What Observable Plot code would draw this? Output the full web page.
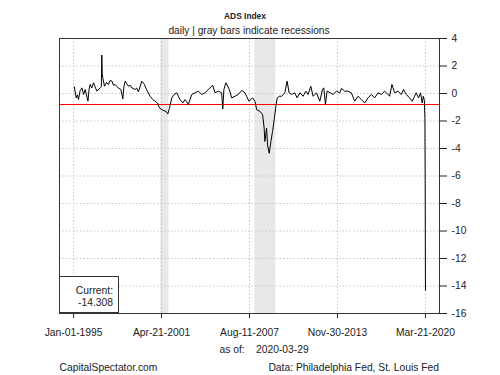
<!DOCTYPE html>
<html>
<head>
<meta charset="utf-8">
<script src="https://cdn.jsdelivr.net/npm/d3@7"></script>
<script src="https://cdn.jsdelivr.net/npm/@observablehq/plot@0.6"></script>
<style>
  html, body { margin: 0; padding: 0; background: #fff; }
  #chart { width: 500px; height: 375px; position: relative; }
  svg { font-family: "Liberation Sans", Arial, sans-serif; }
</style>
</head>
<body>
<div id="chart"></div>
<script>
const dates = [
  "1995-01-20","1995-03-10","1995-04-10","1995-05-10","1995-06-20","1995-08-07","1995-09-20","1995-11-01",
  "1996-01-12","1996-02-10","1996-03-10","1996-04-20","1996-06-05","1996-07-15","1996-09-02","1996-11-28","1996-12-28",
  "1997-01-08","1997-01-20","1997-02-06","1997-03-20","1997-05-10","1997-07-01","1997-08-15","1997-10-01","1997-11-10","1997-12-25",
  "1998-02-10","1998-03-20","1998-05-22","1998-07-13","1998-08-10","1998-09-12","1998-10-25","1998-12-06",
  "1999-01-20","1999-03-07","1999-05-31","1999-07-10","1999-08-25","1999-11-21",
  "2000-01-30","2000-03-05","2000-04-16","2000-06-27","2000-09-05","2000-11-03",
  "2001-01-04","2001-02-25","2001-05-23","2001-08-18","2001-10-01","2001-11-13",
  "2002-01-15","2002-03-15","2002-05-26","2002-07-05","2002-08-18","2002-10-29","2002-12-28",
  "2003-02-10","2003-03-25","2003-06-20","2003-09-16","2003-12-10",
  "2004-03-07","2004-06-02","2004-08-28","2004-12-20",
  "2005-02-20","2005-05-15","2005-08-12","2005-09-10","2005-10-10","2005-12-02",
  "2006-02-28","2006-05-01","2006-07-27","2006-10-20",
  "2007-01-18","2007-04-13","2007-05-27","2007-07-26","2007-10-30",
  "2008-01-01","2008-02-14","2008-05-11","2008-07-19","2008-08-29","2008-09-16","2008-10-31","2008-11-26",
  "2009-01-08","2009-02-21","2009-04-05","2009-05-19","2009-07-02","2009-08-05","2009-09-27","2009-11-29",
  "2010-02-21","2010-04-22","2010-06-13","2010-08-15","2010-11-09",
  "2011-01-08","2011-03-21","2011-06-15","2011-08-24","2011-10-23",
  "2012-01-01","2012-03-01","2012-05-30","2012-08-24","2012-11-02","2012-12-06",
  "2013-01-19","2013-03-03","2013-05-30","2013-08-07","2013-11-03",
  "2014-01-30","2014-03-14","2014-06-08","2014-09-02","2014-11-28",
  "2015-02-24","2015-05-22","2015-08-18","2015-11-13",
  "2016-02-07","2016-05-07","2016-07-31","2016-10-26",
  "2017-01-22","2017-04-19","2017-07-13","2017-08-26","2017-10-26",
  "2018-01-04","2018-04-01","2018-06-27","2018-08-26","2018-11-05",
  "2019-01-30","2019-04-11","2019-06-09","2019-07-23","2019-09-23","2019-11-14","2019-12-28",
  "2020-01-25","2020-02-22","2020-03-07","2020-03-14","2020-03-21"
];
const values = [
  0.48,-0.32,-0.1,-0.44,0.2,0.41,-0.07,0.29,
  -0.56,0.3,0.66,0.4,0.78,0.5,0.17,0.41,0.5,
  2.8,1.4,1.1,0.53,0.8,0.66,0.95,0.9,0.6,0.66,
  0.5,0.41,0.29,-0.39,0.5,0.9,0.7,0.53,
  0.6,0.41,0.29,0.4,0.12,0.9,
  0.66,0.4,0.17,-0.2,-0.44,-0.56,
  -0.69,-1.05,-1.22,-1.3,-1.49,-1.1,
  -0.32,-0.07,0.05,-0.2,-0.44,-0.69,-0.44,
  -0.6,-0.8,-0.07,0.05,0.17,
  -0.07,0.05,0.29,0.6,
  0.05,0.17,0.05,-1.13,0.3,0.78,
  0.29,-0.32,-0.2,-0.07,
  0.22,0.05,-0.2,-0.56,-0.32,
  -0.56,-1.17,-1.3,-1.54,-2.52,-3.49,-2.52,-3.74,
  -4.35,-3.49,-2.76,-1.9,-0.93,-0.32,-0.2,-0.2,
  0.05,0.9,0.05,-0.07,0.05,
  -0.32,0.05,-0.2,0.17,-0.07,
  0.53,-0.2,0.05,-0.56,0.29,0.41,
  -0.8,0.17,0.05,-0.07,0.17,
  0.05,0.37,0.17,0.17,0.05,
  -0.56,-0.2,-0.44,-0.69,
  -0.32,-0.07,-0.32,0.05,
  -0.07,0.17,-0.07,-0.2,0.66,
  0.05,0.17,-0.07,0.29,-0.07,
  -0.32,-0.56,-0.2,0.05,-0.32,0.05,-0.69,
  -0.2,-0.5,-1.8,-6.35,-14.308
];
const recessionStart = ["2001-04-01", "2008-01-01"];
const recessionEnd = ["2001-11-01", "2009-06-30"];
const threshold = [-0.8];
const xTicks = ["1995-01-01","2001-04-21","2007-08-11","2013-11-30","2020-03-21"];
const yTicks = [4,2,0,-2,-4,-6,-8,-10,-12,-14,-16];
const xDomain = ["1993-12-28","2021-03-24"];
const currentValue = "-14.308";
const asOfDate = "2020-03-29";

const data = dates.map((d, i) => ({date: new Date(d), value: values[i]}));
const recessions = recessionStart.map((s, i) => ({start: new Date(s), end: new Date(recessionEnd[i])}));
const xTickDates = xTicks.map(d => new Date(d));
const fmt = d3.utcFormat("%b-%d-%Y");

const plot = Plot.plot({
  width: 500,
  height: 375,
  marginLeft: 59,
  marginRight: 61,
  marginTop: 38,
  marginBottom: 62,
  style: {fontFamily: "'Liberation Sans', Arial, sans-serif", fontSize: "10.3px", color: "#222", background: "#fff"},
  x: {type: "utc", domain: xDomain.map(d => new Date(d)), label: null},
  y: {domain: [-16, 4], label: null},
  marks: [
    Plot.rect(recessions, {x1: "start", x2: "end", fill: "#e8e8e8"}),
    Plot.gridX(xTickDates, {stroke: "#c8c8c8", strokeOpacity: 1, strokeDasharray: "1.5,2"}),
    Plot.gridY(yTicks.slice(1, -1), {stroke: "#c8c8c8", strokeOpacity: 1, strokeDasharray: "1.5,2"}),
    Plot.ruleY(threshold, {stroke: "#ff0000", strokeWidth: 1.2}),
    Plot.line(data, {x: "date", y: "value", stroke: "#000", strokeWidth: 1}),
    Plot.axisX({ticks: xTickDates, tickFormat: fmt, tickSize: 5, tickPadding: 10, fontSize: 10.3}),
    Plot.axisY({anchor: "right", ticks: yTicks, tickFormat: d => String(d), tickSize: 7, tickPadding: 5, fontSize: 10.3}),
    Plot.frame({stroke: "#333"})
  ]
});
document.getElementById("chart").appendChild(plot);

const svg = d3.select(plot);
const ff = "'Liberation Sans', Arial, sans-serif";
function addText(x, y, anchor, txt, size, weight) {
  svg.append("text").attr("x", x).attr("y", y).attr("text-anchor", anchor)
    .attr("font-family", ff).attr("font-size", size || "10.3px")
    .attr("font-weight", weight || "normal").attr("fill", "#222").text(txt);
}
// Current value legend box
svg.append("rect").attr("x", 59.5).attr("y", 276.5).attr("width", 59).attr("height", 36)
  .attr("fill", "#fff").attr("stroke", "#333");
addText(113, 293.5, "end", "Current:");
addText(113, 305.5, "end", currentValue);
// Titles
addText(245, 18.5, "middle", "ADS Index", "8.4px", "bold");
addText(249, 34, "middle", "daily | gray bars indicate recessions", "10.2px");
// as of
addText(219.5, 353, "start", "as of:");
addText(256, 353, "start", asOfDate);
// footer
addText(59.5, 371, "start", "CapitalSpectator.com");
addText(439, 371, "end", "Data: Philadelphia Fed, St. Louis Fed");
</script>
</body>
</html>
